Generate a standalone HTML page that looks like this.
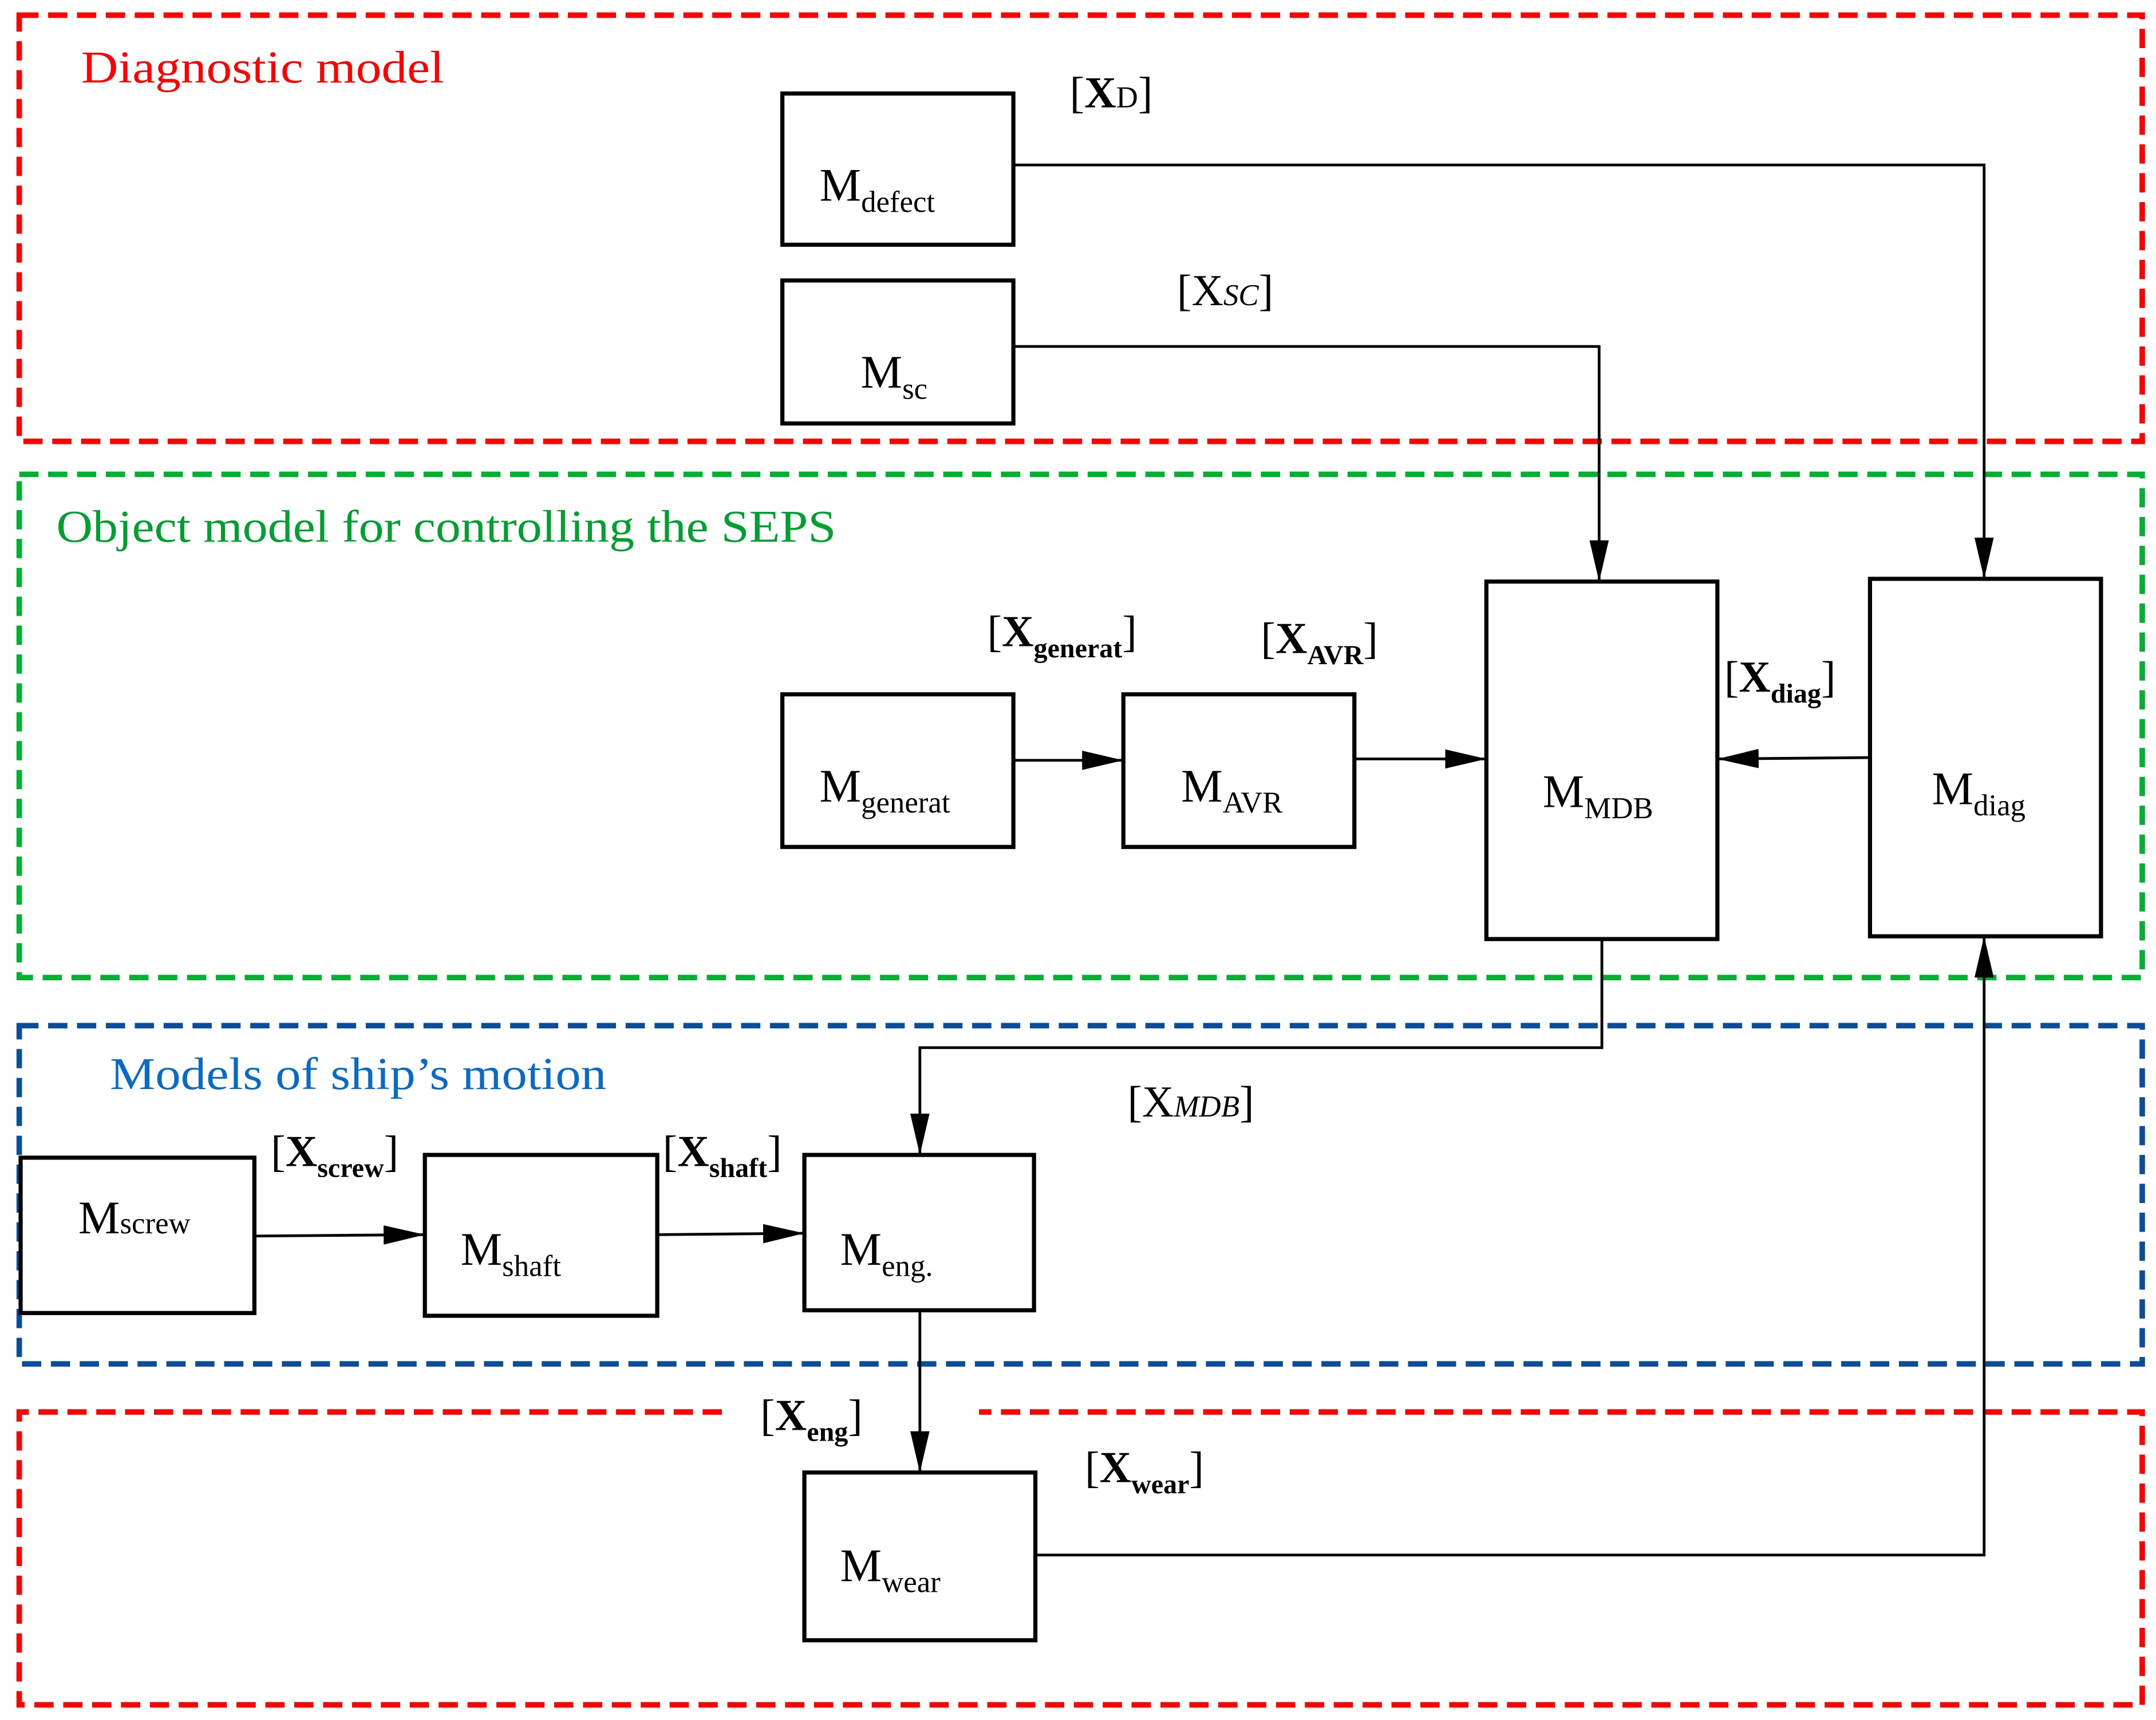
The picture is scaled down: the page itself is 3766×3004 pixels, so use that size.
<!DOCTYPE html>
<html><head><meta charset="utf-8"><style>
html,body{margin:0;padding:0;background:#fff;}
svg{display:block;}
text{font-family:"Liberation Serif",serif;}
</style></head><body>
<svg width="3766" height="3004" viewBox="0 0 1568 1251" preserveAspectRatio="none" xmlns="http://www.w3.org/2000/svg">
<defs>
<marker id="b" viewBox="0 0 30 14" markerWidth="30" markerHeight="14" refX="30" refY="7" orient="auto" markerUnits="userSpaceOnUse"><path d="M0,0 L30,7 L0,14 z" fill="#000"/></marker>
</defs>
<g fill="none" stroke-width="4" stroke-dasharray="14 7">
<rect x="14" y="11" width="1544" height="310" stroke="#ff0000"/>
<rect x="14" y="345" width="1544" height="366" stroke="#00b030"/>
<rect x="14" y="746" width="1544" height="246" stroke="#0a4d9a"/>
<path d="M525,1027 L14,1027 L14,1240 L1558,1240 L1558,1027 L712,1027" stroke="#ff0000"/>
</g>
<text x="59" y="60" font-size="33" fill="#ff0000" textLength="264" lengthAdjust="spacingAndGlyphs">Diagnostic model</text>
<text x="41" y="394" font-size="33" fill="#00a030" textLength="567" lengthAdjust="spacingAndGlyphs">Object model for controlling the SEPS</text>
<text x="80" y="792" font-size="33" fill="#0a6ac8" textLength="361" lengthAdjust="spacingAndGlyphs">Models of ship’s motion</text>
<g fill="#fff" stroke="#000" stroke-width="3">
<rect x="569" y="68" width="168" height="110"/>
<rect x="569" y="204" width="168" height="104"/>
<rect x="569" y="505" width="168" height="111"/>
<rect x="817" y="505" width="168" height="111"/>
<rect x="1081" y="423" width="168" height="260"/>
<rect x="1360" y="421" width="168" height="260"/>
<rect x="15" y="842" width="170" height="113"/>
<rect x="309" y="840" width="169" height="117"/>
<rect x="585" y="840" width="167" height="113"/>
<rect x="585" y="1071" width="168" height="122"/>
</g>
<g fill="none" stroke="#000" stroke-width="2">
<path d="M737,120 L1443,120 L1443,421" marker-end="url(#b)"/>
<path d="M737,252 L1163,252 L1163,423" marker-end="url(#b)"/>
<path d="M737,553 L817,553" marker-end="url(#b)"/>
<path d="M985,552 L1081,552" marker-end="url(#b)"/>
<path d="M1360,551 L1249,552" marker-end="url(#b)"/>
<path d="M1165,683 L1165,762 L669,762 L669,840" marker-end="url(#b)"/>
<path d="M185,899 L309,898" marker-end="url(#b)"/>
<path d="M478,898 L585,897" marker-end="url(#b)"/>
<path d="M669,953 L669,1071" marker-end="url(#b)"/>
<path d="M753,1131 L1443,1131 L1443,681" marker-end="url(#b)"/>
</g>
<g font-size="34" fill="#000">
<text x="596" y="146">M<tspan font-size="22" dy="8">defect</tspan></text>
<text x="626" y="282">M<tspan font-size="22" dy="8">sc</tspan></text>
<text x="596" y="583">M<tspan font-size="22" dy="8">generat</tspan></text>
<text x="859" y="583">M<tspan font-size="22" dy="8">AVR</tspan></text>
<text x="1122" y="587">M<tspan font-size="22" dy="8">MDB</tspan></text>
<text x="1405" y="585">M<tspan font-size="22" dy="8">diag</tspan></text>
<text x="57" y="897">M<tspan font-size="22">screw</tspan></text>
<text x="335" y="920">M<tspan font-size="22" dy="8">shaft</tspan></text>
<text x="611" y="920">M<tspan font-size="22" dy="8">eng.</tspan></text>
<text x="611" y="1150">M<tspan font-size="22" dy="8">wear</tspan></text>
</g>
<g font-size="32" fill="#000">
<text x="778" y="78">[<tspan font-weight="bold">X</tspan><tspan font-size="22">D</tspan>]</text>
<text x="856" y="222">[X<tspan font-size="22" font-style="italic">SC</tspan>]</text>
<text x="718" y="470">[<tspan font-weight="bold">X</tspan><tspan font-size="20" font-weight="bold" dy="8">generat</tspan><tspan dy="-8">]</tspan></text>
<text x="917" y="475">[<tspan font-weight="bold">X</tspan><tspan font-size="20" font-weight="bold" dy="8">AVR</tspan><tspan dy="-8">]</tspan></text>
<text x="1254" y="503">[<tspan font-weight="bold">X</tspan><tspan font-size="20" font-weight="bold" dy="8">diag</tspan><tspan dy="-8">]</tspan></text>
<text x="820" y="812">[X<tspan font-size="22" font-style="italic">MDB</tspan>]</text>
<text x="197" y="848">[<tspan font-weight="bold">X</tspan><tspan font-size="20" font-weight="bold" dy="8">screw</tspan><tspan dy="-8">]</tspan></text>
<text x="482" y="848">[<tspan font-weight="bold">X</tspan><tspan font-size="20" font-weight="bold" dy="8">shaft</tspan><tspan dy="-8">]</tspan></text>
<text x="553" y="1040">[<tspan font-weight="bold">X</tspan><tspan font-size="20" font-weight="bold" dy="8">eng</tspan><tspan dy="-8">]</tspan></text>
<text x="789" y="1078">[<tspan font-weight="bold">X</tspan><tspan font-size="20" font-weight="bold" dy="8">wear</tspan><tspan dy="-8">]</tspan></text>
</g>
</svg>
</body></html>
